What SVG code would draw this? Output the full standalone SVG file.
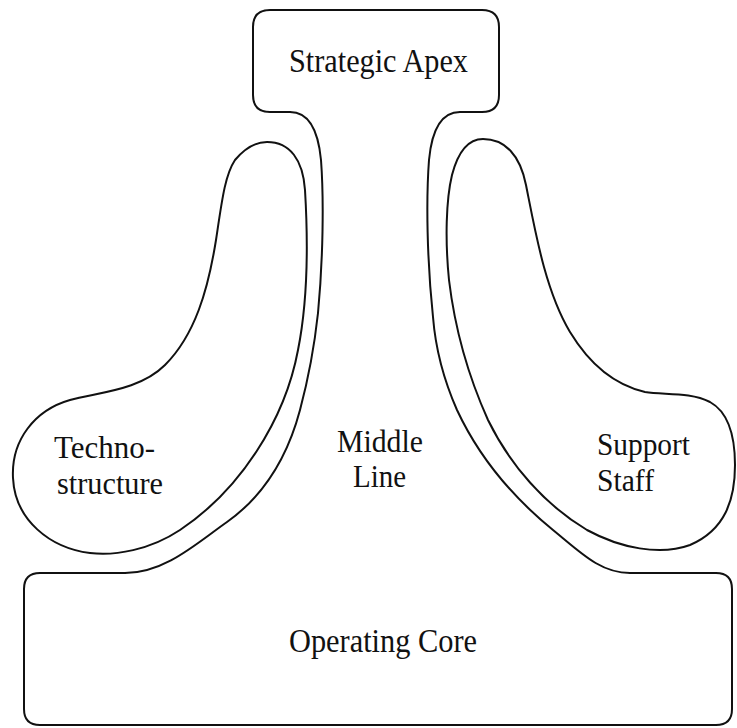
<svg xmlns="http://www.w3.org/2000/svg" width="737" height="728" viewBox="0 0 737 728">
<style>
.ol{fill:none;stroke:#111;stroke-width:2;stroke-linecap:round;stroke-linejoin:round}
.lb{font-family:"Liberation Serif","Times New Roman",serif;font-size:31px;fill:#111}
.big{font-size:33px}
</style>
<rect width="737" height="728" fill="#fff"/>
<g id="connectors"/>
<g id="strategic-apex">
<path class="ol" d="M 290,112 L 270,112 Q 253,112 253,95 L 253,27 Q 253,10 270,10 L 482,10 Q 499,10 499,27 L 499,95 Q 499,112 482,112 L 460,112"/>
<text class="lb big" x="289" y="72" textLength="179" lengthAdjust="spacingAndGlyphs">Strategic Apex</text>
</g>
<g id="middle-line">
<path class="ol" d="M 290,112 C 308,112 318,128 321,160 C 324,200 323,260 318,313 C 314,350 308,380 300,410 C 288,455 265,495 227,522 C 197,543 165,573 125,573"/>
<path class="ol" d="M 460,112 C 442,112 432,128 429,160 C 426,200 427,260 433,317 C 436,355 446,385 457,410 C 478,455 510,495 553,530 C 580,552 600,573 630,573"/>
<text class="lb" x="337" y="452" textLength="86" lengthAdjust="spacingAndGlyphs">Middle</text>
<text class="lb" x="353" y="487" textLength="53" lengthAdjust="spacingAndGlyphs">Line</text>
</g>
<g id="technostructure">
<path class="ol" d="M 267,142 C 290,142 303,160 305,190 C 308,240 308,300 298,350 C 285,420 240,490 180,530 C 150,550 115,556 90,553 C 50,548 15,520 13,478 C 11,440 35,410 70,400 C 100,392 140,390 165,365 C 195,335 208,290 216,240 C 222,200 225,175 235,160 C 245,148 255,142 267,142 Z"/>
<text class="lb" x="54" y="458" textLength="101" lengthAdjust="spacingAndGlyphs">Techno-</text>
<text class="lb" x="57" y="494" textLength="106" lengthAdjust="spacingAndGlyphs">structure</text>
</g>
<g id="support-staff">
<path class="ol" d="M 483,139 C 505,139 520,155 526,185 C 535,230 545,290 570,332 C 590,365 615,385 645,392 C 665,395 690,392 710,402 C 728,412 735,435 735,465 C 735,500 725,530 690,545 C 660,556 620,548 587,530 C 545,505 510,465 488,420 C 470,380 455,330 449,280 C 445,240 446,200 452,175 C 458,152 468,139 483,139 Z"/>
<text class="lb" x="597" y="455" textLength="93" lengthAdjust="spacingAndGlyphs">Support</text>
<text class="lb" x="597" y="491" textLength="57" lengthAdjust="spacingAndGlyphs">Staff</text>
</g>
<g id="operating-core">
<path class="ol" d="M 125,573 L 40,573 Q 24,573 24,589 L 24,709 Q 24,725 40,725 L 716,725 Q 732,725 732,709 L 732,589 Q 732,573 716,573 L 630,573"/>
<text class="lb big" x="289" y="652" textLength="188" lengthAdjust="spacingAndGlyphs">Operating Core</text>
</g>
</svg>
